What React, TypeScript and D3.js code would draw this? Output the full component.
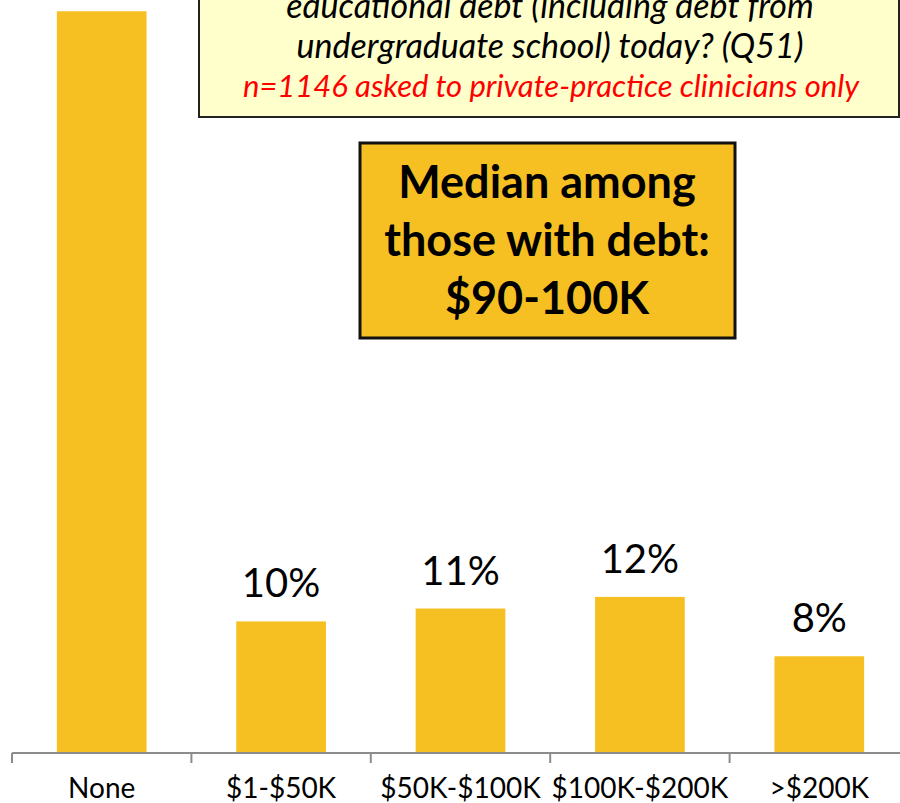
import React from "react";
import * as d3 from "d3";

const categories = ["None", "$1-$50K", "$50K-$100K", "$100K-$200K", ">$200K"];
const values = [57.5, 10.2, 11.2, 12.1, 7.5];

const questionLines = [
  "educational debt (including debt from",
  "undergraduate school) today? (Q51)",
];
const sampleNote = "n=1146 asked to private-practice clinicians only";
const medianLines = ["Median among", "those with debt:", "$90-100K"];

const width = 900;
const height = 803;
const baseline = 753;
const barColor = "#F6C022";
const font = "Lato, 'Open Sans', sans-serif";

export default function App() {
  const x = d3.scaleBand().domain(categories).range([12, 909]).paddingInner(0.5).paddingOuter(0.25);
  const y = d3.scaleLinear().domain([0, 60]).range([baseline, baseline - 60 * 12.9]);

  const ticks = categories.map((c) => x(c)! - (x.step() * x.paddingInner()) / 2);
  ticks.push(x(categories[categories.length - 1])! + x.bandwidth() + (x.step() * x.paddingInner()) / 2);

  return (
    <>
      <style>{"body{margin:0}"}</style>
      <svg width={width} height={height} style={{ display: "block" }} fontFamily={font}>
        {/* bars */}
        {categories.map((c, i) => (
          <rect key={c} x={x(c)} y={y(values[i])} width={x.bandwidth()} height={baseline - y(values[i])} fill={barColor} />
        ))}

        {/* value labels, the tallest one sits above the crop */}
        {categories.map((c, i) => {
          const ly = y(values[i]) - 24;
          if (ly < 30) return null;
          return (
            <text key={c} x={x(c)! + x.bandwidth() / 2} y={ly} textAnchor="middle" fontSize={40} fill="#000">
              {Math.round(values[i]) + "%"}
            </text>
          );
        })}

        {/* axis */}
        <line x1={12} x2={width} y1={baseline} y2={baseline} stroke="#8c8c8c" strokeWidth={2} />
        {ticks.map((t, i) => (
          <line key={i} x1={t} x2={t} y1={baseline} y2={baseline + 10} stroke="#8c8c8c" strokeWidth={2} />
        ))}
        {categories.map((c) => (
          <text key={c} x={x(c)! + x.bandwidth() / 2} y={798} textAnchor="middle" fontSize={28} fill="#000">
            {c}
          </text>
        ))}

        {/* question box */}
        <rect x={199} y={-10} width={700} height={127} fill="#FFFFCC" stroke="#222" strokeWidth={2} />
        {questionLines.map((l, i) => (
          <text key={i} x={550} y={18 + i * 40} textAnchor="middle" fontSize={34} fontStyle="italic" fill="#000">
            {l}
          </text>
        ))}
        <text x={551} y={97} textAnchor="middle" fontSize={31} fontStyle="italic" fill="#FF0000">
          {sampleNote}
        </text>

        {/* median box */}
        <rect x={360} y={143} width={375} height={195} fill={barColor} stroke="#111" strokeWidth={3} />
        {medianLines.map((l, i) => (
          <text key={i} x={547} y={198 + i * 58} textAnchor="middle" fontSize={45} fontWeight="bold" fill="#000">
            {l}
          </text>
        ))}
      </svg>
    </>
  );
}
